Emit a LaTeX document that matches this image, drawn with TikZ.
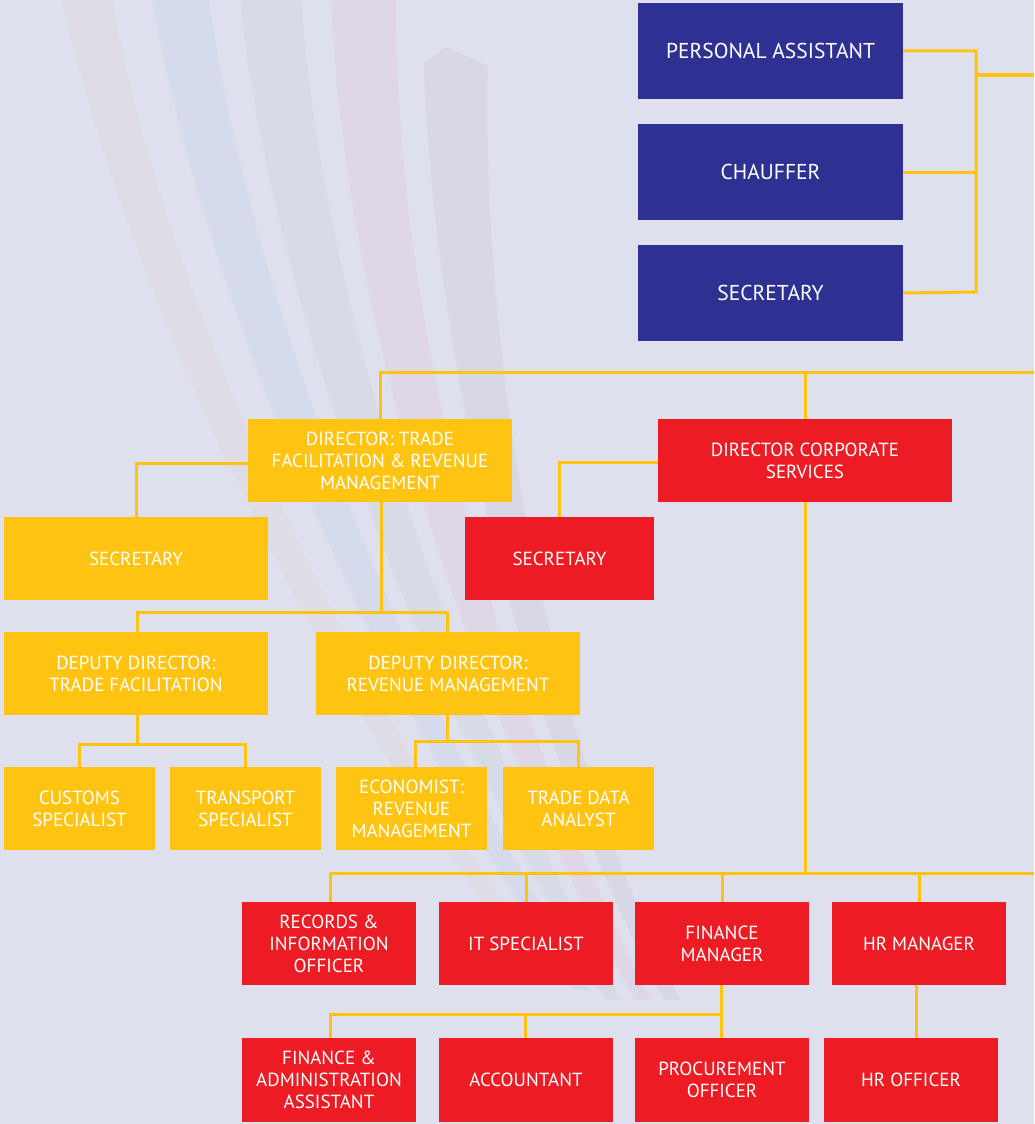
\documentclass[tikz,border=0pt]{standalone}
\usepackage{fontspec}
\setmainfont{PT Sans}
\definecolor{bg}{HTML}{DFE0EE}
\definecolor{navy}{HTML}{2E3192}
\definecolor{gold}{HTML}{FFC412}
\definecolor{rd}{HTML}{ED1C24}
\definecolor{ln}{HTML}{FFC20E}
\definecolor{sw1}{HTML}{DFDCE5}
\definecolor{sw2}{HTML}{D5DAEC}
\definecolor{sw3}{HTML}{D6DBE6}
\definecolor{sw4}{HTML}{DFD6E6}
\definecolor{sw5}{HTML}{D8D7E5}
\tikzset{
  box/.style={inner sep=0pt, align=center, text=white, font=\fontsize{19}{22}\selectfont},
  bbox/.style={box, fill=navy, minimum width=265pt, minimum height=96pt, font=\fontsize{21.5}{24}\selectfont},
  ybox/.style={box, fill=gold},
  rbox/.style={box, fill=rd},
  conn/.style={draw=ln, line width=3pt},
}
\begin{document}
\begin{tikzpicture}[x=1pt,y=-1pt]
\useasboundingbox (0,0) rectangle (1034,1124);
\fill[bg] (0,0) rectangle (1034,1124);
% background swooshes
\fill[sw1] (62,0) .. controls (140,340) and (340,720) .. (540,980) -- (556,980) .. controls (370,720) and (175,340) .. (112,0) -- cycle;
\fill[sw2] (152,0) .. controls (210,320) and (380,700) .. (575,990) -- (591,990) .. controls (410,700) and (255,320) .. (209,0) -- cycle;
\fill[sw3] (240,0) .. controls (275,320) and (425,700) .. (605,1000) -- (621,1000) .. controls (455,700) and (325,320) .. (301,0) -- cycle;
\fill[sw4] (331,0) .. controls (345,320) and (465,700) .. (635,1000) -- (651,1000) .. controls (495,700) and (395,320) .. (396,0) -- cycle;
\fill[sw5] (424,63) -- (446,47) -- (488,66) .. controls (482,320) and (530,700) .. (680,1000) -- (664,1000) .. controls (505,700) and (432,320) .. (424,63) -- cycle;
% top group
\node[bbox] (PA) at (770.5,51) {PERSONAL ASSISTANT};
\node[bbox] (CH) at (770.5,172) {CHAUFFER};
\node[bbox] (SE) at (770.5,293) {SECRETARY};
\coordinate (busT) at (976,75);
\coordinate (busR) at (1034,75);
\draw[conn] (PA.east) -| (976,292) -- (SE.east);
\draw[conn] (CH.east) -- (CH.east -| busT);
\draw[conn] (busT) -- (busR);
% directors
\node[ybox, minimum width=264pt, minimum height=83pt] (DT) at (380,460.5) {DIRECTOR: TRADE\\FACILITATION \& REVENUE\\MANAGEMENT};
\node[rbox, minimum width=294pt, minimum height=83pt] (DC) at (805,460.5) {DIRECTOR CORPORATE\\SERVICES};
\coordinate (topR) at (1034,372);
\draw[conn] (DT.north) |- (topR);
\draw[conn] (DC.north) -- (DC.north |- topR);
% secretaries
\node[ybox, minimum width=264pt, minimum height=83pt] (SY) at (136,558.5) {SECRETARY};
\node[rbox, minimum width=189pt, minimum height=83pt] (SR) at (559.5,558.5) {SECRETARY};
\draw[conn] ([yshift=-3pt]DT.west) -| (SY.north);
\draw[conn] ([yshift=-1.5pt]DC.west) -| (SR.north);
% deputies
\node[ybox, minimum width=264pt, minimum height=83pt] (DTF) at (136,673.5) {DEPUTY DIRECTOR:\\TRADE FACILITATION};
\node[ybox, minimum width=264pt, minimum height=83pt] (DRM) at (448,673.5) {DEPUTY DIRECTOR:\\REVENUE MANAGEMENT};
\coordinate (b1) at (381,612);
\draw[conn] ([xshift=1pt]DT.south) -- (b1);
\draw[conn] ([xshift=1pt]DTF.north) |- (b1) -| ([xshift=-1pt]DRM.north);
% specialists
\node[ybox, minimum width=151pt, minimum height=83pt] (CU) at (79.5,808.5) {CUSTOMS\\SPECIALIST};
\node[ybox, minimum width=151pt, minimum height=83pt] (TR) at (245.5,808.5) {TRANSPORT\\SPECIALIST};
\node[ybox, minimum width=151pt, minimum height=83pt] (EC) at (411.5,808.5) {ECONOMIST:\\REVENUE\\MANAGEMENT};
\node[ybox, minimum width=151pt, minimum height=83pt] (TD) at (578.5,808.5) {TRADE DATA\\ANALYST};
\coordinate (b2) at (137,744);
\draw[conn] ([xshift=1pt]DTF.south) -- (b2);
\draw[conn] (CU.north) |- (b2) -| (TR.north);
\coordinate (b3) at (447,741);
\draw[conn] ([xshift=-1pt]DRM.south) -- (b3);
\draw[conn] ([xshift=3.5pt]EC.north) |- (b3) -| (TD.north);
% corporate services
\node[rbox, minimum width=174pt, minimum height=83pt] (RI) at (329,943.5) {RECORDS \&\\INFORMATION\\OFFICER};
\node[rbox, minimum width=174pt, minimum height=83pt] (IT) at (526,943.5) {IT SPECIALIST};
\node[rbox, minimum width=174pt, minimum height=83pt] (FM) at (722,943.5) {FINANCE\\MANAGER};
\node[rbox, minimum width=174pt, minimum height=83pt] (HM) at (919,943.5) {HR MANAGER};
\coordinate (b4) at (805,873);
\coordinate (b4R) at (1034,873);
\draw[conn] (DC.south) -- (b4);
\draw[conn] ([xshift=1pt]RI.north) |- (b4R);
\draw[conn] (IT.north) -- (IT.north |- b4);
\draw[conn] (FM.north) -- (FM.north |- b4);
\draw[conn] (HM.north) -- (HM.north |- b4);
% bottom row
\node[rbox, minimum width=174pt, minimum height=84pt] (FA) at (329,1080) {FINANCE \&\\ADMINISTRATION\\ASSISTANT};
\node[rbox, minimum width=174pt, minimum height=84pt] (AC) at (526,1080) {ACCOUNTANT};
\node[rbox, minimum width=174pt, minimum height=84pt] (PO) at (722,1080) {PROCUREMENT\\OFFICER};
\node[rbox, minimum width=174pt, minimum height=84pt] (HO) at (911,1080) {HR OFFICER};
\coordinate (b5) at (721,1014);
\draw[conn] ([xshift=-1pt]FM.south) -- ([xshift=-1pt]PO.north);
\draw[conn] ([xshift=1pt]FA.north) |- (b5);
\draw[conn] ([xshift=-1pt]AC.north) -- ([xshift=-1pt]AC.north |- b5);
\draw[conn] ([xshift=-3pt]HM.south) -- ([xshift=-3pt]HM.south |- HO.north);
\end{tikzpicture}
\end{document}
